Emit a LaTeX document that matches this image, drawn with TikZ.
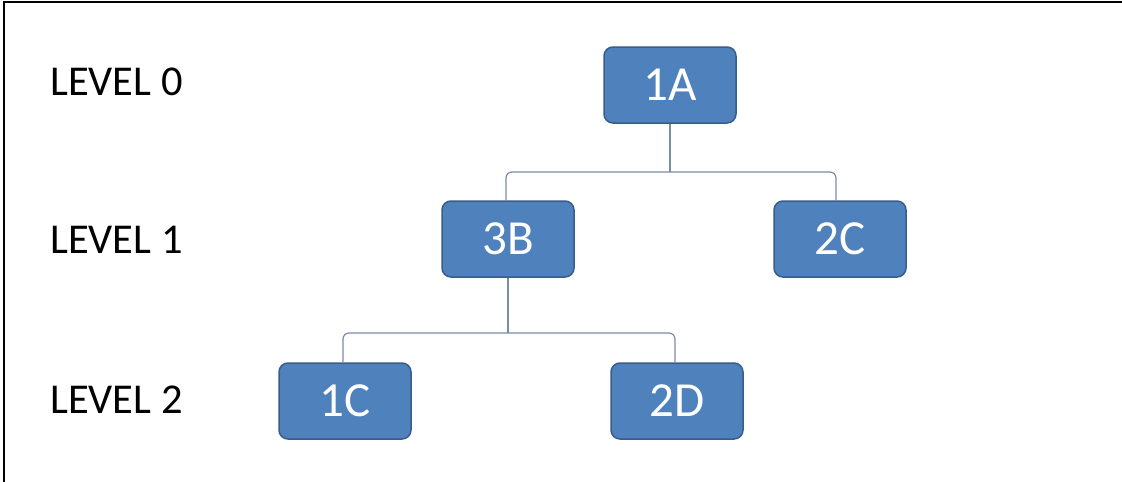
\documentclass[tikz,border=0pt]{standalone}
\usepackage{fontspec}
\setmainfont{Carlito}
\definecolor{boxfill}{HTML}{4F81BD}
\definecolor{boxline}{HTML}{385D8A}
\definecolor{conn}{HTML}{7A8DA6}
\begin{document}
\begin{tikzpicture}[x=1pt,y=-1pt,
  treebox/.style={draw=boxline,line width=1.5pt,fill=boxfill,rounded corners=9pt,
    minimum width=132pt,minimum height=76pt,inner sep=0pt,text=white,
    font=\fontsize{49}{51}\selectfont},
  lvl/.style={anchor=west,inner sep=0pt,font=\fontsize{42.5}{45}\selectfont},
  link/.style={draw=conn,line width=1.2pt,rounded corners=6pt}]
\useasboundingbox (0,0) rectangle (1122,482);
\fill[white] (0,0) rectangle (1122,482);
\draw[line width=2pt] (4,482) -- (4,2) -- (1122,2);
\node[lvl] (l0) at (50,82) {LEVEL 0};
\node[lvl] (l1) at (50,240) {LEVEL 1};
\node[lvl] (l2) at (50,400) {LEVEL 2};
\node[treebox] (a) at (670,85) {1A};
\node[treebox] (b) at (508,239) {3B};
\node[treebox] (c) at (840,239) {2C};
\node[treebox] (d) at (345,401) {1C};
\node[treebox] (e) at (677,401) {2D};
\coordinate (ab) at (670,172);
\coordinate (bd) at (508,333);
\draw[link] (a.south) -- (ab);
\draw[link] (ab) -| ([xshift=-2pt]b.north);
\draw[link] (ab) -| ([xshift=-4pt]c.north);
\draw[link] (b.south) -- (bd);
\draw[link] (bd) -| ([xshift=-2pt]d.north);
\draw[link] (bd) -| ([xshift=-2pt]e.north);
\end{tikzpicture}
\end{document}
